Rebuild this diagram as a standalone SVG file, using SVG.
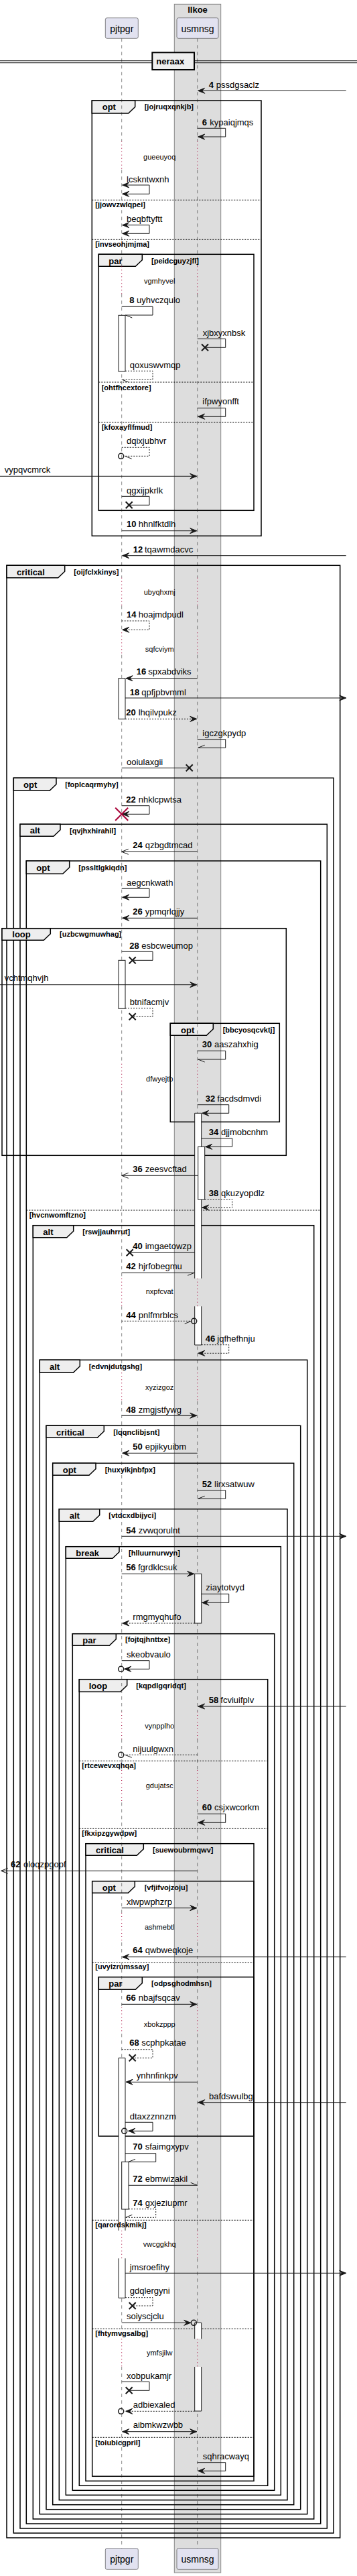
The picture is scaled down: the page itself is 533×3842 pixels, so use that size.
<svg xmlns="http://www.w3.org/2000/svg" width="533" height="3842" viewBox="0 0 533 3842">
<style>
.lbl{font-family:"Liberation Sans",Arial,sans-serif;font-size:13px;fill:#000}
.b{font-weight:bold}
.grp{font-family:"Liberation Sans",Arial,sans-serif;font-size:13px;font-weight:bold;fill:#000}
.cond{font-family:"Liberation Sans",Arial,sans-serif;font-size:11px;font-weight:bold;fill:#000}
.dly{font-family:"Liberation Sans",Arial,sans-serif;font-size:11px;fill:#000;text-anchor:middle}
.fr{fill:none;stroke:#000;stroke-width:1.5}
.tab{fill:#EEEEEE;stroke:#000;stroke-width:1.5}
.sep{stroke:#000;stroke-width:1;stroke-dasharray:2,2}
.ll{fill:none;stroke:#181818;stroke-width:0.5;stroke-dasharray:5,5}
.dl{fill:none;stroke:#A80036;stroke-width:1;stroke-dasharray:1,4}
.m{fill:none;stroke:#181818;stroke-width:1}
.ds{stroke-dasharray:2,2}
.h{fill:#181818;stroke:#181818;stroke-width:1}
.x{fill:none;stroke:#181818;stroke-width:2}
.c{fill:none;stroke:#181818;stroke-width:1.5}
.act{fill:#fff;stroke:#181818;stroke-width:1}
.actf{fill:#fff;stroke:none}
.acte{fill:none;stroke:#181818;stroke-width:1}
.part{fill:#E2E2F0;stroke:#181818;stroke-width:0.5}
.ptxt{font-family:"Liberation Sans",Arial,sans-serif;font-size:14px;fill:#000;text-anchor:middle}
</style>
<g id="box-llkoe">
<rect x="260.3" y="6.3" width="69.4" height="3830.7" fill="#DDDDDD" stroke="#888888" stroke-width="1"/>
<text x="295" y="18.5" class="grp" text-anchor="middle">llkoe</text>
</g>
<g id="frames">
<g id="f1"><rect class="fr" x="137.3" y="150" width="252.7" height="649.3"/><polygon class="tab" points="137.3,150 201.7,150 201.7,159.5 191.7,169 137.3,169"/><text class="grp" x="152.7" y="164.3">opt</text><text class="cond" x="215.7" y="163.3">[jojruqxqnkjb]</text>
<line class="sep" x1="137.3" y1="298.3" x2="390" y2="298.3"/>
<line class="sep" x1="137.3" y1="357.3" x2="390" y2="357.3"/></g>
<g id="f2"><rect class="fr" x="147.3" y="379.3" width="231.7" height="382"/><polygon class="tab" points="147.3,379.3 212.3,379.3 212.3,387.8 202.3,397.3 147.3,397.3"/><text class="grp" x="162.3" y="394">par</text><text class="cond" x="226" y="393.3">[peidcguyzjfl]</text>
<line class="sep" x1="147.3" y1="570" x2="379" y2="570"/>
<line class="sep" x1="147.3" y1="630" x2="379" y2="630"/></g>
<g id="f3"><rect class="fr" x="10" y="843.3" width="497.7" height="2941.7"/><polygon class="tab" points="10,843.3 96.7,843.3 96.7,852.2 86.7,861.7 10,861.7"/><text class="grp" x="25" y="858.3">critical</text><text class="cond" x="110.3" y="856.7">[oijfclxkinys]</text></g>
<g id="f4"><rect class="fr" x="20.3" y="1160.3" width="477.7" height="2617.7"/><polygon class="tab" points="20.3,1160.3 84,1160.3 84,1169.8 74,1179.3 20.3,1179.3"/><text class="grp" x="35" y="1175">opt</text><text class="cond" x="97.3" y="1174">[foplcaqrmyhy]</text></g>
<g id="f5"><rect class="fr" x="30" y="1229.3" width="458.3" height="2541.7"/><polygon class="tab" points="30,1229.3 90,1229.3 90,1237.8 80,1247.3 30,1247.3"/><text class="grp" x="44.7" y="1243.3">alt</text><text class="cond" x="104" y="1242.7">[qvjhxhirahil]</text></g>
<g id="f6"><rect class="fr" x="39.3" y="1284" width="439.4" height="2480"/><polygon class="tab" points="39.3,1284 103.7,1284 103.7,1293.8 93.7,1303.3 39.3,1303.3"/><text class="grp" x="54.3" y="1299.3">opt</text><text class="cond" x="117.3" y="1298.3">[pssltlgkiqdn]</text>
<line class="sep" x1="39.3" y1="1805" x2="478.7" y2="1805"/></g>
<g id="f7"><rect class="fr" x="3" y="1384.7" width="424.3" height="338.6"/><polygon class="tab" points="3,1384.7 75.3,1384.7 75.3,1392.8 65.3,1402.3 3,1402.3"/><text class="grp" x="18.3" y="1398.3">loop</text><text class="cond" x="89" y="1397.3">[uzbcwgmuwhag]</text></g>
<g id="f8"><rect class="fr" x="254.3" y="1526.3" width="163" height="147"/><polygon class="tab" points="254.3,1526.3 318.3,1526.3 318.3,1534.8 308.3,1544.3 254.3,1544.3"/><text class="grp" x="270" y="1540.7">opt</text><text class="cond" x="332.7" y="1540">[bbcyosqcvktj]</text></g>
<g id="f9"><rect class="fr" x="49.3" y="1827.7" width="419.4" height="1929.3"/><polygon class="tab" points="49.3,1827.7 109.7,1827.7 109.7,1836.2 99.7,1845.7 49.3,1845.7"/><text class="grp" x="64.3" y="1841.7">alt</text><text class="cond" x="123.3" y="1840.7">[rswjjauhrrut]</text></g>
<g id="f10"><rect class="fr" x="59.3" y="2028.3" width="399.4" height="1721.4"/><polygon class="tab" points="59.3,2028.3 119.3,2028.3 119.3,2037.8 109.3,2047.3 59.3,2047.3"/><text class="grp" x="74" y="2042.7">alt</text><text class="cond" x="132.7" y="2041.7">[edvnjdutgshg]</text></g>
<g id="f11"><rect class="fr" x="69" y="2126.3" width="379.7" height="1616.4"/><polygon class="tab" points="69,2126.3 155.3,2126.3 155.3,2134.8 145.3,2144.3 69,2144.3"/><text class="grp" x="84" y="2141">critical</text><text class="cond" x="169.3" y="2140">[lqqnclibjsnt]</text></g>
<g id="f12"><rect class="fr" x="78.7" y="2182.3" width="360" height="1553.4"/><polygon class="tab" points="78.7,2182.3 143,2182.3 143,2190.8 133,2200.3 78.7,2200.3"/><text class="grp" x="93.7" y="2196.7">opt</text><text class="cond" x="156.7" y="2196">[huxyikjnbfpx]</text></g>
<g id="f13"><rect class="fr" x="88.3" y="2250.7" width="340.7" height="1478"/><polygon class="tab" points="88.3,2250.7 148.7,2250.7 148.7,2259.8 138.7,2269.3 88.3,2269.3"/><text class="grp" x="103.7" y="2265">alt</text><text class="cond" x="162.3" y="2264">[vtdcxdbijyci]</text></g>
<g id="f14"><rect class="fr" x="98.3" y="2306.7" width="321" height="1414.6"/><polygon class="tab" points="98.3,2306.7 178,2306.7 178,2314.8 168,2324.3 98.3,2324.3"/><text class="grp" x="113.3" y="2321">break</text><text class="cond" x="192" y="2320">[hlluurnurwyn]</text></g>
<g id="f15"><rect class="fr" x="108.3" y="2436.7" width="301.4" height="1277.6"/><polygon class="tab" points="108.3,2436.7 173.3,2436.7 173.3,2444.8 163.3,2454.3 108.3,2454.3"/><text class="grp" x="123.3" y="2450.7">par</text><text class="cond" x="187" y="2449.3">[fojtqjhnttxe]</text></g>
<g id="f16"><rect class="fr" x="118.3" y="2504.7" width="281.4" height="1202.6"/><polygon class="tab" points="118.3,2504.7 189.7,2504.7 189.7,2513.8 179.7,2523.3 118.3,2523.3"/><text class="grp" x="132.7" y="2519">loop</text><text class="cond" x="203.3" y="2518.3">[kqpdlgqridqt]</text>
<line class="sep" x1="118.3" y1="2626.3" x2="399.7" y2="2626.3"/>
<line class="sep" x1="118.3" y1="2727.3" x2="399.7" y2="2727.3"/></g>
<g id="f17"><rect class="fr" x="128" y="2749.7" width="251" height="950.6"/><polygon class="tab" points="128,2749.7 214.3,2749.7 214.3,2757.8 204.3,2767.3 128,2767.3"/><text class="grp" x="143" y="2763.7">critical</text><text class="cond" x="228" y="2762.7">[suewoubrmqwv]</text></g>
<g id="f18"><rect class="fr" x="137.7" y="2805.7" width="241.3" height="887.6"/><polygon class="tab" points="137.7,2805.7 201.3,2805.7 201.3,2813.8 191.3,2823.3 137.7,2823.3"/><text class="grp" x="152.7" y="2820">opt</text><text class="cond" x="215.7" y="2819.3">[vfjifvojzoju]</text>
<line class="sep" x1="137.7" y1="2927.3" x2="379" y2="2927.3"/>
<line class="sep" x1="137.7" y1="3311.3" x2="379" y2="3311.3"/>
<line class="sep" x1="137.7" y1="3473.3" x2="379" y2="3473.3"/>
<line class="sep" x1="137.7" y1="3635.3" x2="379" y2="3635.3"/></g>
<g id="f19"><rect class="fr" x="147.3" y="2948.7" width="231.7" height="237.3"/><polygon class="tab" points="147.3,2948.7 212.3,2948.7 212.3,2957.8 202.3,2967.3 147.3,2967.3"/><text class="grp" x="162.3" y="2963.3">par</text><text class="cond" x="226" y="2961.7">[odpsghodmhsn]</text></g>
</g>
<g id="lifelines">
<path class="ll" d="M181.7,57.3V210.7M181.7,253.3V397.3M181.7,438.3V861.7M181.7,903.3V943.3M181.7,976.7V1586.7M181.7,1628.3V1906.7M181.7,1948.3V2047.3M181.7,2090V2553M181.7,2594V2640M181.7,2688.3V2853M181.7,2897V2993.3M181.7,3033.3V3326.7M181.7,3368.3V3488.3M181.7,3530V3800.7"/>
<path class="ll" d="M294.7,57.3V210.7M294.7,253.3V397.3M294.7,438.3V861.7M294.7,903.3V943.3M294.7,976.7V1586.7M294.7,1628.3V1906.7M294.7,1948.3V2047.3M294.7,2090V2553M294.7,2594V2640M294.7,2688.3V2853M294.7,2897V2993.3M294.7,3033.3V3326.7M294.7,3368.3V3488.3M294.7,3530V3800.7"/>
<path class="dl" d="M181.7,210.7V253.3M181.7,397.3V438.3M181.7,861.7V903.3M181.7,943.3V976.7M181.7,1586.7V1628.3M181.7,1906.7V1948.3M181.7,2047.3V2090M181.7,2553V2594M181.7,2640V2688.3M181.7,2853V2897M181.7,2993.3V3033.3M181.7,3326.7V3368.3M181.7,3488.3V3530"/>
<path class="dl" d="M294.7,210.7V253.3M294.7,397.3V438.3M294.7,861.7V903.3M294.7,943.3V976.7M294.7,1586.7V1628.3M294.7,1906.7V1948.3M294.7,2047.3V2090M294.7,2553V2594M294.7,2640V2688.3M294.7,2853V2897M294.7,2993.3V3033.3M294.7,3326.7V3368.3M294.7,3488.3V3530"/>
</g>
<g id="delays">
<text class="dly" x="238.2" y="238.3">gueeuyoq</text>
<text class="dly" x="238.2" y="422.7">vgmhyvel</text>
<text class="dly" x="238.2" y="886.7">ubyqhxmj</text>
<text class="dly" x="238.2" y="971.7">sqfcviym</text>
<text class="dly" x="238.2" y="1613.3">dfwyejtb</text>
<text class="dly" x="238.2" y="1930">nxpfcvat</text>
<text class="dly" x="238.2" y="2072.7">xyzizgoz</text>
<text class="dly" x="238.2" y="2578.3">vynpplho</text>
<text class="dly" x="238.2" y="2666.7">gdujatsc</text>
<text class="dly" x="238.2" y="2878.3">ashmebtl</text>
<text class="dly" x="238.2" y="3022.7">xbokzppp</text>
<text class="dly" x="238.2" y="3351">vwcggkhq</text>
<text class="dly" x="238.2" y="3513.3">ymfsjilw</text>
</g>
<g id="divider-neraax">
<line x1="0" y1="90.7" x2="533" y2="90.7" stroke="#000" stroke-width="1"/>
<line x1="0" y1="93.7" x2="533" y2="93.7" stroke="#000" stroke-width="1"/>
<rect x="227.3" y="78.3" width="62.7" height="25.7" fill="#EEEEEE" stroke="#000" stroke-width="2"/>
<text class="grp" x="233.3" y="96">neraax</text>
</g>
<g id="activations">
<rect class="act" x="177" y="470.3" width="10" height="83.7"/>
<rect class="act" x="177" y="1011.7" width="10" height="60.6"/>
<rect class="act" x="177" y="1432.3" width="10" height="72"/>
<rect class="actf" x="290.7" y="1660.3" width="10" height="246.4"/><path class="acte" d="M290.7,1906.7V1660.3H300.7V1906.7"/>
<rect class="actf" x="290.7" y="1948.3" width="10" height="57.7"/><path class="acte" d="M290.7,1948.3V2006H300.7V1948.3"/>
<rect class="act" x="295.7" y="1710.3" width="10" height="78.7"/>
<rect class="act" x="290.7" y="2347.3" width="10" height="73.7"/>
<rect class="actf" x="177" y="3069.3" width="10" height="257.4"/><path class="acte" d="M177,3326.7V3069.3H187V3326.7"/>
<rect class="act" x="181.7" y="3224.3" width="10.3" height="70.7"/>
<rect class="actf" x="177" y="3368.3" width="10" height="59"/><path class="acte" d="M177,3368.3V3427.3H187V3368.3"/>
<rect class="actf" x="290.7" y="3464.3" width="10" height="24"/><path class="acte" d="M290.7,3488.3V3464.3H300.7V3488.3"/>
<rect class="actf" x="290.7" y="3530" width="10" height="66"/><path class="acte" d="M290.7,3530V3596H300.7V3530"/>
</g>
<g id="else-labels">
<text class="cond" x="142.3" y="309.3">[jjowvzwlqpei]</text>
<text class="cond" x="142.3" y="368.3">[invseohjmjma]</text>
<text class="cond" x="151.7" y="581.7">[ohtfhcextore]</text>
<text class="cond" x="151.7" y="640.7">[kfoxayflfmud]</text>
<text class="cond" x="43.7" y="1816">[hvcnwomftzno]</text>
<text class="cond" x="122.3" y="2637.3">[rtcewevxqhqa]</text>
<text class="cond" x="122.3" y="2738.3">[fkxipzgywdpw]</text>
<text class="cond" x="142.3" y="2937.3">[uvyizrumssay]</text>
<text class="cond" x="142.3" y="3322.3">[qarordskmikj]</text>
<text class="cond" x="142.3" y="3484.3">[fhtymvgsalbg]</text>
<text class="cond" x="142.3" y="3646.7">[toiubicgpril]</text>
</g>
<g id="connectors">
<path class="m" d="M516.7,135.3H295.7"/><polygon class="h" points="295.7,135.3 305.7,131.3 301.7,135.3 305.7,139.3"/>
<text class="lbl" y="130.7"><tspan class="b" x="311.7">4</tspan><tspan x="322.7">pssdgsaclz</tspan></text>
<path class="m" d="M294.7,191.3H336.7V204H295.7"/><polygon class="h" points="295.7,204 305.7,200 301.7,204 305.7,208"/>
<text class="lbl" y="186.7"><tspan class="b" x="301.7">6</tspan><tspan x="313.3">kypaiqjmqs</tspan></text>
<path class="m" d="M182.7,276H223V289.3H182.7"/><polygon class="h" points="182.7,276 192.7,272 188.7,276 192.7,280"/><polygon class="h" points="182.7,289.3 192.7,285.3 188.7,289.3 192.7,293.3"/>
<text class="lbl" x="189" y="271.7">lcskntwxnh</text>
<path class="m" d="M182.7,335.7H223V348.3H182.7"/><polygon class="h" points="182.7,335.7 192.7,331.7 188.7,335.7 192.7,339.7"/><polygon class="h" points="182.7,348.3 192.7,344.3 188.7,348.3 192.7,352.3"/>
<text class="lbl" x="189" y="330.7">beqbftyftt</text>
<path class="m" d="M181.7,457.3H228V470H187.3M187.3,470L197.3,474"/>
<text class="lbl" y="452"><tspan class="b" x="193.3">8</tspan><tspan x="204">uyhvczqulo</tspan></text>
<path class="m" d="M294.7,505.3H336.7V518.3H306"/><path class="x" d="M301,513.3L311,523.3M301,523.3L311,513.3"/>
<text class="lbl" x="302.7" y="500.7">xjbxyxnbsk</text>
<path class="m ds" d="M187,553.3H228V566H181.7"/><path class="m" d="M181.7,566L191.7,570"/>
<text class="lbl" x="193.7" y="549.3">qoxuswvmqp</text>
<path class="m" d="M294.7,608.7H336.7V621.3H295.7"/><polygon class="h" points="295.7,621.3 305.7,617.3 301.7,621.3 305.7,625.3"/>
<text class="lbl" x="302.3" y="603.3">ifpwyonfft</text>
<path class="m ds" d="M181.7,667.3H223V680.3H185.7"/><path class="m" d="M186.7,680.3L196.7,684.3"/><circle class="c" cx="180.7" cy="680.3" r="4"/>
<text class="lbl" x="189" y="661.7">dqixjubhvr</text>
<path class="m" d="M0,710.3H293.7"/><polygon class="h" points="293.7,710.3 283.7,706.3 287.7,710.3 283.7,714.3"/>
<text class="lbl" x="6.7" y="705.3">vypqvcmrck</text>
<path class="m" d="M181.7,740.3H223V753.3H192.7"/><path class="x" d="M187.7,748.3L197.7,758.3M187.7,758.3L197.7,748.3"/>
<text class="lbl" x="189" y="735.7">qgxijpkrlk</text>
<path class="m" d="M181.7,791.7H293.7"/><polygon class="h" points="293.7,791.7 283.7,787.7 287.7,791.7 283.7,795.7"/>
<text class="lbl" y="785.7"><tspan class="b" x="189">10</tspan><tspan x="206.7">hhnlfktdlh</tspan></text>
<path class="m" d="M516.7,828.7H182.7"/><polygon class="h" points="182.7,828.7 192.7,824.7 188.7,828.7 192.7,832.7"/>
<text class="lbl" y="823.7"><tspan class="b" x="198.7">12</tspan><tspan x="216">tqawmdacvc</tspan></text>
<path class="m ds" d="M181.7,926H223V939.3H182.7"/><polygon class="h" points="182.7,939.3 192.7,935.3 188.7,939.3 192.7,943.3"/>
<text class="lbl" y="920.7"><tspan class="b" x="189">14</tspan><tspan x="206.7">hoajmdpudl</tspan></text>
<path class="m" d="M294.7,1011.7H188"/><polygon class="h" points="188,1011.7 198,1007.7 194,1011.7 198,1015.7"/>
<text class="lbl" y="1005.7"><tspan class="b" x="203.7">16</tspan><tspan x="221.3">spxabdviks</tspan></text>
<path class="m" d="M187,1041H516.7"/><polygon class="h" points="516.7,1041 506.7,1037 510.7,1041 506.7,1045"/>
<text class="lbl" y="1036.7"><tspan class="b" x="193.7">18</tspan><tspan x="211.3">qpfjpbvmml</tspan></text>
<path class="m ds" d="M187,1072.3H293.7"/><polygon class="h" points="293.7,1072.3 283.7,1068.3 287.7,1072.3 283.7,1076.3"/>
<text class="lbl" y="1066.7"><tspan class="b" x="188.3">20</tspan><tspan x="206.7">lhqilvpukz</tspan></text>
<path class="m" d="M294.7,1102.7H336.7V1115.3H295.7M295.7,1115.3L305.7,1111.3"/>
<text class="lbl" x="302.3" y="1097.7">igczgkpydp</text>
<path class="m" d="M181.7,1145.3H282.7"/><path class="x" d="M277.7,1140.3L287.7,1150.3M277.7,1150.3L287.7,1140.3"/>
<text class="lbl" x="189" y="1141">ooiulaxgii</text>
<path class="m" d="M181.7,1201.7H223V1214.3H182.7"/><polygon class="h" points="182.7,1214.3 192.7,1210.3 188.7,1214.3 192.7,1218.3"/>
<path d="M172.2,1204.8L191.2,1223.8M172.2,1223.8L191.2,1204.8" fill="none" stroke="#A80036" stroke-width="2"/>
<text class="lbl" y="1196.7"><tspan class="b" x="188.3">22</tspan><tspan x="206.7">nhklcpwtsa</tspan></text>
<path class="m" d="M294.7,1270.3H181.7M191.7,1266.3L181.7,1270.3L191.7,1274.3"/>
<text class="lbl" y="1265"><tspan class="b" x="198.3">24</tspan><tspan x="216.7">qzbgdtmcad</tspan></text>
<path class="m" d="M181.7,1325.3H223V1338.3H182.7"/><polygon class="h" points="182.7,1338.3 192.7,1334.3 188.7,1338.3 192.7,1342.3"/>
<text class="lbl" x="189" y="1320.7">aegcnkwath</text>
<path class="m" d="M294.7,1369.3H182.7"/><polygon class="h" points="182.7,1369.3 192.7,1365.3 188.7,1369.3 192.7,1373.3"/>
<text class="lbl" y="1364"><tspan class="b" x="198.3">26</tspan><tspan x="216.7">ypmqrlqjjy</tspan></text>
<path class="m" d="M181.7,1419.3H228V1432.3H197.7"/><path class="x" d="M192.7,1427.3L202.7,1437.3M192.7,1437.3L202.7,1427.3"/>
<text class="lbl" y="1415"><tspan class="b" x="193.3">28</tspan><tspan x="211.3">esbcweumop</tspan></text>
<path class="m" d="M0,1468.7H293.7"/><polygon class="h" points="293.7,1468.7 283.7,1464.7 287.7,1468.7 283.7,1472.7"/>
<text class="lbl" x="6.7" y="1463.3">vchtmqhvjh</text>
<path class="m ds" d="M187,1503.7H228V1516.3H197.7"/><path class="x" d="M192.7,1511.3L202.7,1521.3M192.7,1521.3L202.7,1511.3"/>
<text class="lbl" x="193.7" y="1499">btnifacmjv</text>
<path class="m" d="M294.7,1567.3H336.7V1580H295.7M295.7,1580L305.7,1584"/>
<text class="lbl" y="1561.7"><tspan class="b" x="301.7">30</tspan><tspan x="320">aaszahxhig</tspan></text>
<path class="m" d="M294.7,1647.7H341.7V1660.3H301.7"/><polygon class="h" points="301.7,1660.3 311.7,1656.3 307.7,1660.3 311.7,1664.3"/>
<text class="lbl" y="1642.7"><tspan class="b" x="306.7">32</tspan><tspan x="324.3">facdsdmvdi</tspan></text>
<path class="m" d="M300.7,1697.7H346.7V1710.3H306.7"/><polygon class="h" points="306.7,1710.3 316.7,1706.3 312.7,1710.3 316.7,1714.3"/>
<text class="lbl" y="1692.7"><tspan class="b" x="311.7">34</tspan><tspan x="330">djjmobcnhm</tspan></text>
<path class="m" d="M295.7,1753.3H181.7M191.7,1749.3L181.7,1753.3L191.7,1757.3"/>
<text class="lbl" y="1747.7"><tspan class="b" x="198.3">36</tspan><tspan x="216.7">zeesvcftad</tspan></text>
<path class="m ds" d="M305.7,1788.7H346.7V1801H301.7"/><polygon class="h" points="301.7,1801 311.7,1797 307.7,1801 311.7,1805"/>
<text class="lbl" y="1783.7"><tspan class="b" x="311.7">38</tspan><tspan x="330">qkuzyopdlz</tspan></text>
<path class="m" d="M290.7,1868.3H193.7"/><path class="x" d="M188.7,1863.3L198.7,1873.3M188.7,1873.3L198.7,1863.3"/>
<text class="lbl" y="1863.3"><tspan class="b" x="198.3">40</tspan><tspan x="216.7">imgaetowzp</tspan></text>
<path class="m" d="M181.7,1898.3H290.2M290.2,1898.3L280.2,1902.3"/>
<text class="lbl" y="1893.3"><tspan class="b" x="188.3">42</tspan><tspan x="206.7">hjrfobegmu</tspan></text>
<path class="m ds" d="M181.7,1970.3H285.7"/><path class="m" d="M285.7,1970.3L275.7,1974.3"/><circle class="c" cx="289.7" cy="1970.3" r="4"/>
<text class="lbl" y="1965.7"><tspan class="b" x="188.3">44</tspan><tspan x="206.7">pnlfmrblcs</tspan></text>
<path class="m ds" d="M300.7,2005.7H341.7V2018.3H295.7"/><polygon class="h" points="295.7,2018.3 305.7,2014.3 301.7,2018.3 305.7,2022.3"/>
<text class="lbl" y="2000.7"><tspan class="b" x="306.7">46</tspan><tspan x="324.3">jqfhefhnju</tspan></text>
<path class="m" d="M181.7,2111.3H293.7"/><polygon class="h" points="293.7,2111.3 283.7,2107.3 287.7,2111.3 283.7,2115.3"/>
<text class="lbl" y="2106.7"><tspan class="b" x="188.3">48</tspan><tspan x="206.7">zmgjstfywg</tspan></text>
<path class="m" d="M294.7,2167.3H182.7"/><polygon class="h" points="182.7,2167.3 192.7,2163.3 188.7,2167.3 192.7,2171.3"/>
<text class="lbl" y="2161.7"><tspan class="b" x="198.3">50</tspan><tspan x="216.7">epjikyuibm</tspan></text>
<path class="m" d="M294.7,2222.7H336.7V2235.3H295.7M295.7,2235.3L305.7,2231.3"/>
<text class="lbl" y="2217.7"><tspan class="b" x="301.7">52</tspan><tspan x="320">lirxsatwuw</tspan></text>
<path class="m" d="M181.7,2291.3H516.7"/><polygon class="h" points="516.7,2291.3 506.7,2287.3 510.7,2291.3 506.7,2295.3"/>
<text class="lbl" y="2286.7"><tspan class="b" x="188.3">54</tspan><tspan x="206.7">zvwqorulnt</tspan></text>
<path class="m" d="M181.7,2347.3H289.7"/><polygon class="h" points="289.7,2347.3 279.7,2343.3 283.7,2347.3 279.7,2351.3"/>
<text class="lbl" y="2341.7"><tspan class="b" x="188.3">56</tspan><tspan x="206">fgrdklcsuk</tspan></text>
<path class="m" d="M300.7,2377.3H341.7V2390.3H301.7"/><polygon class="h" points="301.7,2390.3 311.7,2386.3 307.7,2390.3 311.7,2394.3"/>
<text class="lbl" x="307.3" y="2372.3">ziaytotvyd</text>
<path class="m ds" d="M290.7,2421H182.7"/><polygon class="h" points="182.7,2421 192.7,2417 188.7,2421 192.7,2425"/>
<text class="lbl" x="198.3" y="2415.7">rmgmyqhufo</text>
<path class="m" d="M181.7,2476.7H223V2489.3H185.7"/><polygon class="h" points="185.7,2489.3 195.7,2485.3 191.7,2489.3 195.7,2493.3"/><circle class="c" cx="180.7" cy="2489.3" r="4"/>
<text class="lbl" x="189" y="2471.7">skeobvaulo</text>
<path class="m" d="M516.7,2545H295.7"/><polygon class="h" points="295.7,2545 305.7,2541 301.7,2545 305.7,2549"/>
<text class="lbl" y="2540"><tspan class="b" x="311.7">58</tspan><tspan x="329.3">fcviuifplv</tspan></text>
<path class="m ds" d="M294.7,2617.3H185.7"/><path class="m" d="M186.7,2617.3L196.7,2621.3"/><circle class="c" cx="180.7" cy="2617.3" r="4"/>
<text class="lbl" x="198.3" y="2612.7">nijuulgwxn</text>
<path class="m" d="M294.7,2705.3H336.7V2718.3H295.7"/><polygon class="h" points="295.7,2718.3 305.7,2714.3 301.7,2718.3 305.7,2722.3"/>
<text class="lbl" y="2700"><tspan class="b" x="301.7">60</tspan><tspan x="320">csjxwcorkm</tspan></text>
<path class="m" d="M294.7,2790.3H1.7M11.7,2786.3L1.7,2790.3L11.7,2794.3"/>
<text class="lbl" y="2784.7"><tspan class="b" x="16">62</tspan><tspan x="35">oloqzpgopf</tspan></text>
<path class="m" d="M181.7,2845.7H293.7"/><polygon class="h" points="293.7,2845.7 283.7,2841.7 287.7,2845.7 283.7,2849.7"/>
<text class="lbl" x="189" y="2840.7">xlwpwphzrp</text>
<path class="m" d="M516.7,2918.7H182.7"/><polygon class="h" points="182.7,2918.7 192.7,2914.7 188.7,2918.7 192.7,2922.7"/>
<text class="lbl" y="2912.7"><tspan class="b" x="198.3">64</tspan><tspan x="216.7">qwbweqkoje</tspan></text>
<path class="m" d="M181.7,2989.3H293.7"/><polygon class="h" points="293.7,2989.3 283.7,2985.3 287.7,2989.3 283.7,2993.3"/>
<text class="lbl" y="2984"><tspan class="b" x="188.3">66</tspan><tspan x="206.7">nbajfsqcav</tspan></text>
<path class="m ds" d="M181.7,3056.7H228V3069.3H197.7"/><path class="x" d="M192.7,3064.3L202.7,3074.3M192.7,3074.3L202.7,3064.3"/>
<text class="lbl" y="3051"><tspan class="b" x="193.3">68</tspan><tspan x="211.3">scphpkatae</tspan></text>
<path class="m" d="M294.7,3105.3H188"/><polygon class="h" points="188,3105.3 198,3101.3 194,3105.3 198,3109.3"/>
<text class="lbl" x="203.7" y="3100">ynhnfinkpv</text>
<path class="m" d="M516.7,3135.7H295.7"/><polygon class="h" points="295.7,3135.7 305.7,3131.7 301.7,3135.7 305.7,3139.7"/>
<text class="lbl" x="312" y="3130.7">bafdswulbg</text>
<path class="m" d="M187,3165.3H228V3178.3H191.7"/><polygon class="h" points="191.7,3178.3 201.7,3174.3 197.7,3178.3 201.7,3182.3"/><circle class="c" cx="185.7" cy="3178.3" r="4"/>
<text class="lbl" x="193.7" y="3160.7">dtaxzznnzm</text>
<path class="m" d="M187,3211.7H232.7V3224.3H192M192,3224.3L202,3220.3"/>
<text class="lbl" y="3206"><tspan class="b" x="198.3">70</tspan><tspan x="216.7">sfaimgxypv</tspan></text>
<path class="m" d="M192,3259.3H294.7M294.7,3259.3L284.7,3255.3"/>
<text class="lbl" y="3254.3"><tspan class="b" x="198.3">72</tspan><tspan x="216.7">ebmwizakil</tspan></text>
<path class="m ds" d="M192,3294.7H232.7V3307.3H187.3"/><path class="m" d="M187.3,3307.3L197.3,3303.3"/>
<text class="lbl" y="3290"><tspan class="b" x="198.3">74</tspan><tspan x="216.7">gxjeziupmr</tspan></text>
<path class="m" d="M187,3390.3H516.7"/><polygon class="h" points="516.7,3390.3 506.7,3386.3 510.7,3390.3 506.7,3394.3"/>
<text class="lbl" x="193.7" y="3385.7">jmsroefihy</text>
<path class="m ds" d="M187,3426.7H228V3439H197.7"/><path class="x" d="M192.7,3434L202.7,3444M192.7,3444L202.7,3434"/>
<text class="lbl" x="193.7" y="3421">gdqlergyni</text>
<path class="m" d="M181.7,3464.3H284.7"/><polygon class="h" points="284.7,3464.3 274.7,3460.3 278.7,3464.3 274.7,3468.3"/><circle class="c" cx="289.3" cy="3464.3" r="4"/>
<text class="lbl" x="189" y="3459.3">soiyscjclu</text>
<path class="m" d="M181.7,3552.3H223V3565.3H192.7"/><path class="x" d="M187.7,3560.3L197.7,3570.3M187.7,3570.3L197.7,3560.3"/>
<text class="lbl" x="189" y="3547.7">xobpukamjr</text>
<path class="m ds" d="M290.7,3596.3H187.7"/><polygon class="h" points="187.7,3596.3 197.7,3592.3 193.7,3596.3 197.7,3600.3"/><circle class="c" cx="180.7" cy="3596.3" r="4"/>
<text class="lbl" x="198.7" y="3590.7">adbiexaled</text>
<path class="m" d="M182.7,3626.7H293.7"/><polygon class="h" points="182.7,3626.7 192.7,3622.7 188.7,3626.7 192.7,3630.7"/><polygon class="h" points="293.7,3626.7 283.7,3622.7 287.7,3626.7 283.7,3630.7"/>
<text class="lbl" x="198.7" y="3621">aibmkwzwbb</text>
<path class="m" d="M294.7,3672.7H336.7V3685.3H295.7"/><polygon class="h" points="295.7,3685.3 305.7,3681.3 301.7,3685.3 305.7,3689.3"/>
<text class="lbl" x="302.7" y="3667.7">sqhracwayq</text>
</g>
<g id="p-pjtpgr">
<rect class="part" x="157.3" y="26.7" width="49" height="30.6" rx="2.5"/><text class="ptxt" x="181.8" y="47.7">pjtpgr</text>
<rect class="part" x="157.3" y="3800.7" width="49" height="31.6" rx="2.5"/><text class="ptxt" x="181.8" y="3821.7">pjtpgr</text>
</g>
<g id="p-usmnsg">
<rect class="part" x="264" y="26.7" width="62" height="30.6" rx="2.5"/><text class="ptxt" x="295" y="47.7">usmnsg</text>
<rect class="part" x="264" y="3800.7" width="62" height="31.6" rx="2.5"/><text class="ptxt" x="295" y="3821.7">usmnsg</text>
</g>
</svg>
